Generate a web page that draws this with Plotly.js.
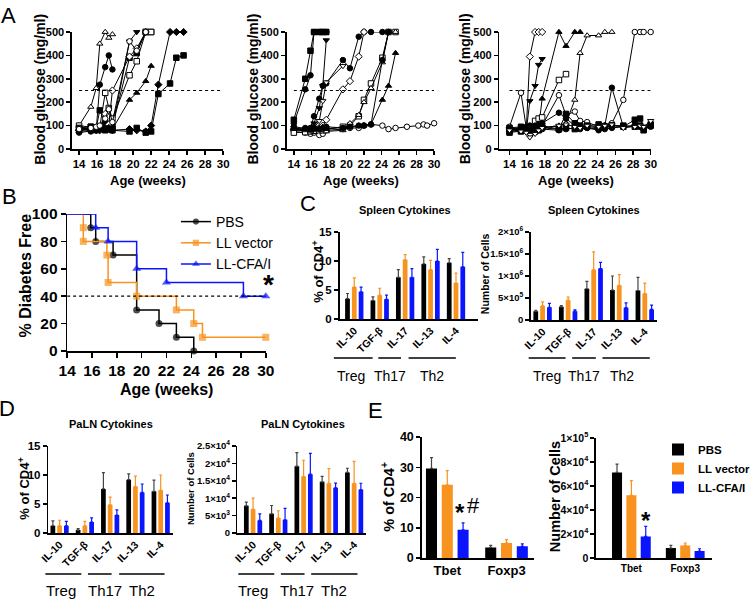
<!DOCTYPE html>
<html><head><meta charset="utf-8">
<script src="https://cdn.plot.ly/plotly-3.0.1.min.js"></script>
<style>html,body{margin:0;padding:0;background:#fff}#chart{width:756px;height:599px}</style>
</head><body><div id="chart"></div>
<script>
const W = 756, H = 599;
const F = 'Arial, "Liberation Sans", Helvetica, sans-serif';

// ---------- Panel A: blood glucose per mouse ----------
const weeks = [14, 15.3, 15.9, 16.3, 16.9, 17.3, 17.7, 19.6, 20.4, 21.4, 22.0, 22.8, 24.1, 24.8, 25.6, 26.9, 28.2, 28.8, 29.2, 30];
const glucoseThreshold = 250;
const xTicksWeeks = [14, 16, 18, 20, 22, 24, 26, 28, 30];
const yTicksGlucose = [0, 100, 200, 300, 400, 500];

const pbsGlucose = [
  [100, 180, 260, 450, 500, 475, 490],
  [70, 75, 80, 275, 350, 400, 340],
  [85, 90, 80, 85, 90, 85, 90, 460, 500],
  [80, 85, 90, 165, 110, 85, 95, 390, 410, 500, 500],
  [100, 95, 90, 95, 240, 175, 130, 315, 375, 500, 500],
  [80, 85, 80, 90, 150, 105, 250, 395, 430, 500],
  [75, 80, 75, 85, 80, 90, 85, 210, 240, 290, 355],
  [80, 85, 90, 80, 85, 90, 80, 85, 80, 75, 100, 275, 500, 500, 500],
  [90, 95, 85, 90, 80, 85, 80, 75, 90, 70, 75, 235, 280, 390, 400],
  [85, 90, 95, 100, 130, 170, 115, 460, 420, 500]
];
const pbsSymbols = ['triangle-up-open', 'circle', 'triangle-down', 'square', 'square-open', 'diamond-open', 'triangle-up', 'diamond', 'square', 'circle-open'];

const vectorGlucose = [
  [125, 300, 420, 500, 500, 500, 500],
  [110, 255, 315, 500, 500, 500, 500],
  [90, 85, 80, 110, 175, 270, 465],
  [80, 85, 90, 140, 215, 270, 280, 380, 345, 480, 500, 500, 500, 500],
  [80, 80, 85, 90, 120, 205, 285, 355],
  [85, 80, 75, 80, 90, 100, 125, 255, 290, 395, 500],
  [75, 70, 65, 70, 60, 65, 80, 85, 90, 90, 100, 105, 100, 85, 90, 95, 100, 105, 100, 110],
  [70, 72, 75, 78, 80, 80, 85, 95, 100, 140, 210, 280, 390, 500, 500],
  [85, 80, 75, 80, 85, 80, 75, 80, 110, 145, 200, 260, 370, 500, 500],
  [90, 85, 80, 85, 90, 95, 85, 90, 95, 100, 100, 105, 210, 270, 410],
  [95, 90, 85, 90, 85, 90, 95, 90, 95, 100, 100, 105, 380, 500]
];
const vectorSymbols = ['square', 'circle', 'triangle-down', 'circle', 'triangle-down-open', 'diamond-open', 'circle-open', 'square-open', 'triangle-up-open', 'triangle-up', 'circle'];

const cfaGlucose = [
  [90, 85, 80, 395, 500, 500, 500],
  [85, 80, 75, 205, 270, 360, 385],
  [80, 85, 90, 80, 85, 90, 215, 500, 440, 500, 500],
  [90, 85, 80, 75, 80, 85, 90, 100, 110, 210, 410, 485, 485, 500, 500],
  [75, 80, 85, 80, 120, 130, 135, 295, 320],
  [95, 240, 90, 85, 90, 95, 100, 230, 145, 160, 120, 115, 95, 100, 110, 210, 500, 500, 500, 500],
  [80, 85, 90, 95, 100, 105, 110, 155, 130, 100, 95, 90, 85, 100, 262, 95, 100, 95, 90, 100],
  [70, 75, 80, 85, 90, 95, 100, 85, 150, 110, 100, 95, 90, 95, 100, 95, 125, 130, 90, 100],
  [85, 90, 95, 100, 90, 80, 85, 80, 85, 90, 85, 90, 80, 85, 90, 95, 100, 95, 85, 95],
  [90, 95, 85, 80, 75, 80, 90, 85, 90, 85, 95, 100, 105, 95, 100, 100, 95, 100, 80, 105],
  [80, 75, 70, 50, 65, 80, 90, 100, 105, 95, 90, 100, 95, 100, 105, 90, 95, 100, 95, 120]
];
const cfaSymbols = ['diamond-open', 'triangle-down', 'triangle-up', 'triangle-up-open', 'square-open', 'circle-open', 'circle', 'square', 'circle', 'square', 'triangle-down-open'];

// ---------- Panel B: diabetes-free survival ----------
const groupNames = ['PBS', 'LL vector', 'LL-CFA/I'];
const survWeeksPBS = [14, 15.9, 16.3, 17.7, 19.6, 21.4, 22.8, 24.2];
const survPBS = [100, 90, 80, 70, 30, 20, 10, 0];
const survWeeksVector = [14, 15.3, 15.3, 17.2, 17.3, 19.6, 22.8, 24.2, 24.9, 30];
const survVector = [100, 90, 80, 70, 50, 40, 30, 20, 10, 10];
const survWeeksCFA = [14, 16.3, 17.3, 19.6, 22.0, 28.2, 30];
const survCFA = [100, 90, 80, 60, 50, 40, 40];
const survivalRef = 40;
const yTicksSurv = [0, 20, 40, 60, 80, 100];

// ---------- Panels C & D: cytokines ----------
const cytokines = ['IL-10', 'TGF-β', 'IL-17', 'IL-13', 'IL-4'];
const spleenPctPBS = [3.5, 3.2, 7.2, 9.5, 9.7];
const spleenPctPBSUp = [4.4, 3.8, 8.5, 10.7, 10.4];
const spleenPctVector = [5.5, 4.1, 10.2, 8.5, 6.2];
const spleenPctVectorUp = [7.1, 5.3, 11.1, 10.1, 7.9];
const spleenPctCFA = [4.7, 3.4, 7.2, 10.0, 9.0];
const spleenPctCFAUp = [5.5, 4.1, 8.7, 12.0, 11.5];

const spleenNumPBS = [2.0e5, 3.0e5, 7.1e5, 6.8e5, 6.7e5];
const spleenNumPBSUp = [2.2e5, 3.3e5, 8.8e5, 1.0e6, 9.7e5];
const spleenNumVector = [3.2e5, 4.5e5, 1.14e6, 7.9e5, 6.0e5];
const spleenNumVectorUp = [4.1e5, 5.2e5, 1.55e6, 1.03e6, 8.4e5];
const spleenNumCFA = [2.9e5, 2.0e5, 1.17e6, 2.8e5, 2.4e5];
const spleenNumCFAUp = [3.8e5, 2.3e5, 1.31e6, 3.9e5, 3.4e5];

const palnPctPBS = [1.25, 0.5, 7.6, 9.2, 7.2];
const palnPctPBSUp = [2.1, 0.75, 10.4, 10.2, 9.1];
const palnPctVector = [1.25, 1.25, 4.85, 8.0, 7.35];
const palnPctVectorUp = [2.2, 2.0, 6.2, 9.8, 10.0];
const palnPctCFA = [1.25, 1.9, 3.1, 7.0, 5.2];
const palnPctCFAUp = [2.0, 2.6, 4.0, 8.45, 6.55];

const palnNumPBS = [7.8e3, 5.5e3, 19.2e3, 14.7e3, 17.4e3];
const palnNumPBSUp = [8.85e3, 7.9e3, 23.1e3, 16.3e3, 18.6e3];
const palnNumVector = [6.85e3, 4.3e3, 16.2e3, 14.3e3, 14.3e3];
const palnNumVectorUp = [10.0e3, 6.4e3, 20.9e3, 18.5e3, 20.6e3];
const palnNumCFA = [3.6e3, 3.8e3, 16.9e3, 13.0e3, 12.45e3];
const palnNumCFAUp = [5.5e3, 7.1e3, 22.9e3, 14.35e3, 14.3e3];

const cellGroups = ['Treg', 'Th17', 'Th2'];

// ---------- Panel E: transcription factors ----------
const factors = ['Tbet', 'Foxp3'];
const tfPctPBS = [29.6, 3.5];
const tfPctPBSUp = [33.2, 4.2];
const tfPctVector = [24.2, 4.95];
const tfPctVectorUp = [28.9, 6.05];
const tfPctCFA = [9.3, 3.85];
const tfPctCFAUp = [11.6, 4.7];
const tfNumPBS = [71.3e3, 8.3e3];
const tfNumPBSUp = [78.3e3, 10.5e3];
const tfNumVector = [52.2e3, 10.5e3];
const tfNumVectorUp = [64.4e3, 12.5e3];
const tfNumCFA = [18.0e3, 5.8e3];
const tfNumCFAUp = [26.4e3, 7.7e3];

// ---------- styles ----------
const colors = ['#000000', '#F7931E', '#0A14FF'];
const errColors = ['#444444', '#F7931E', '#0A14FF'];

function xd(a, b) { return [a / W, b / W]; }
function yd(top, bottom) { return [1 - bottom / H, 1 - top / H]; }
function px(x) { return x / W; }
function py(y) { return 1 - y / H; }

const traces = [];

function glucoseTraces(series, symbols, n) {
  series.forEach((vals, i) => {
    const sym = symbols[i];
    const open = sym.endsWith('-open');
    const base = open ? sym.slice(0, -5) : sym;
    traces.push({
      type: 'scatter', mode: 'lines+markers',
      x: weeks.slice(0, vals.length), y: vals,
      xaxis: 'x' + (n === 1 ? '' : n), yaxis: 'y' + (n === 1 ? '' : n),
      showlegend: false, cliponaxis: false,
      line: { color: '#000', width: 1 },
      marker: { symbol: base, size: 5.5, color: open ? '#fff' : '#000', line: { color: '#000', width: 1 } }
    });
  });
}
glucoseTraces(pbsGlucose, pbsSymbols, 1);
glucoseTraces(vectorGlucose, vectorSymbols, 2);
glucoseTraces(cfaGlucose, cfaSymbols, 3);

const survSets = [[survWeeksPBS, survPBS, 'circle', 7], [survWeeksVector, survVector, 'square', 7], [survWeeksCFA, survCFA, 'triangle-up', 8]];
survSets.forEach((s, i) => {
  traces.push({
    type: 'scatter', mode: 'lines+markers', name: groupNames[i],
    x: s[0], y: s[1], xaxis: 'x4', yaxis: 'y4', line: { shape: 'hv', color: colors[i], width: 1.5 },
    marker: { symbol: s[2], color: colors[i], size: s[0].map((_, j) => j === 0 ? 0 : s[3]), line: { width: 0 } },
    cliponaxis: false, legend: 'legend'
  });
});

function barTraces(cats, means, ups, n, legendName) {
  means.forEach((m, i) => {
    traces.push({
      type: 'bar', x: cats, y: m, name: groupNames[i],
      xaxis: 'x' + n, yaxis: 'y' + n,
      marker: { color: colors[i], line: { width: 0 } },
      error_y: { type: 'data', symmetric: false, array: ups[i].map((u, j) => u - m[j]), arrayminus: m.map(() => 0), color: errColors[i], thickness: 1.2, width: 1.5 },
      showlegend: !!legendName, legend: legendName || 'legend'
    });
  });
}
barTraces(cytokines, [spleenPctPBS, spleenPctVector, spleenPctCFA], [spleenPctPBSUp, spleenPctVectorUp, spleenPctCFAUp], 5);
barTraces(cytokines, [spleenNumPBS, spleenNumVector, spleenNumCFA], [spleenNumPBSUp, spleenNumVectorUp, spleenNumCFAUp], 6);
barTraces(cytokines, [palnPctPBS, palnPctVector, palnPctCFA], [palnPctPBSUp, palnPctVectorUp, palnPctCFAUp], 7);
barTraces(cytokines, [palnNumPBS, palnNumVector, palnNumCFA], [palnNumPBSUp, palnNumVectorUp, palnNumCFAUp], 8);
barTraces(factors, [tfPctPBS, tfPctVector, tfPctCFA], [tfPctPBSUp, tfPctVectorUp, tfPctCFAUp], 9);
barTraces(factors, [tfNumPBS, tfNumVector, tfNumCFA], [tfNumPBSUp, tfNumVectorUp, tfNumCFAUp], 10, 'legend2');

// ---------- axes ----------
function base(size) {
  return {
    showline: true, linecolor: '#000', linewidth: 1.5, ticks: 'outside', ticklen: 4, tickwidth: 1.5, tickcolor: '#000',
    showgrid: false, zeroline: false, fixedrange: true,
    tickfont: { family: F, size: size, color: '#000', weight: 'bold' }
  };
}
const layout = {
  width: W, height: H, margin: { l: 0, r: 0, t: 0, b: 0 }, paper_bgcolor: '#fff', plot_bgcolor: 'rgba(0,0,0,0)',
  barmode: 'group', bargap: 0.2, bargroupgap: 0.3, showlegend: true,
  legend: { x: px(186), y: py(206), xanchor: 'left', yanchor: 'top', bgcolor: 'rgba(0,0,0,0)', font: { family: F, size: 14, color: '#000' }, tracegroupgap: 0, itemwidth: 30 },
  legend2: { x: px(696), y: py(435), xanchor: 'left', yanchor: 'top', bgcolor: 'rgba(0,0,0,0)', font: { family: F, size: 11.5, color: '#000', weight: 'bold' }, tracegroupgap: 0 },
  shapes: [], annotations: []
};
function setAxes(n, xdom, ydom, xopt, yopt) {
  const k = n === 1 ? '' : n;
  layout['xaxis' + k] = Object.assign({ domain: xdom, anchor: 'y' + k }, xopt);
  layout['yaxis' + k] = Object.assign({ domain: ydom, anchor: 'x' + k }, yopt);
}
const glucX = (r) => Object.assign(base(11.5), { range: r, tickvals: xTicksWeeks });
const glucY = () => Object.assign(base(11), { range: [0, 500], tickvals: yTicksGlucose });
setAxes(1, xd(76, 236), yd(32, 149), glucX([13.2, 30]), glucY());
setAxes(2, xd(303, 459), yd(32, 149), glucX([13.17, 30]), glucY());
setAxes(3, xd(528, 688), yd(32, 149), glucX([12.85, 30]), glucY());
setAxes(4, xd(71, 281), yd(214, 351),
  Object.assign(base(15.5), { range: [14, 30], tickvals: xTicksWeeks, ticklen: 5 }),
  Object.assign(base(15.5), { range: [0, 100], tickvals: yTicksSurv, ticklen: 5 }));

const catX = (r, size, ang) => Object.assign(base(size), { type: 'category', range: r, ticks: '', tickangle: ang });
setAxes(5, xd(359, 505), yd(232, 319), catX([-0.58, 4.85], 10.5, -45),
  Object.assign(base(11.5), { range: [0, 15], tickvals: [0, 5, 10, 15] }));
setAxes(6, xd(561, 695), yd(232, 320), catX([-0.47, 4.49], 10.5, -45),
  Object.assign(base(9.5), { range: [0, 2e6], tickvals: [0, 5e5, 1e6, 1.5e6, 2e6], ticktext: ['0', '5×10<sup>5</sup>', '1×10<sup>6</sup>', '1.5×10<sup>6</sup>', '2×10<sup>6</sup>'] }));
setAxes(7, xd(51, 183), yd(446, 533), catX([-0.45, 4.49], 10.5, -45),
  Object.assign(base(11.5), { range: [0, 15], tickvals: [0, 5, 10, 15] }));
setAxes(8, xd(251, 387), yd(446, 533), catX([-0.62, 4.47], 10.5, -45),
  Object.assign(base(9.5), { range: [0, 25000], tickvals: [0, 5e3, 1e4, 1.5e4, 2e4, 2.5e4], ticktext: ['0', '5×10<sup>3</sup>', '1×10<sup>4</sup>', '1.5×10<sup>4</sup>', '2×10<sup>4</sup>', '2.5×10<sup>4</sup>'] }));
setAxes(9, xd(446, 565), yd(437, 558), catX([-0.43, 1.47], 13, 0),
  Object.assign(base(12.5), { range: [0, 40], tickvals: [0, 10, 20, 30, 40] }));
setAxes(10, xd(630, 753), yd(438, 558), catX([-0.66, 1.5], 10, 0),
  Object.assign(base(10.5), { range: [0, 1e5], tickvals: [0, 2e4, 4e4, 6e4, 8e4, 1e5], ticktext: ['0', '2×10<sup>4</sup>', '4×10<sup>4</sup>', '6×10<sup>4</sup>', '8×10<sup>4</sup>', '1×10<sup>5</sup>'] }));

// reference lines
[['x', 'y'], ['x2', 'y2'], ['x3', 'y3']].forEach(r => {
  layout.shapes.push({ type: 'line', xref: r[0], yref: r[1], x0: 14, x1: 30, y0: glucoseThreshold, y1: glucoseThreshold, line: { color: '#000', width: 1.2, dash: 'dot' } });
});
layout.shapes.push({ type: 'line', xref: 'x4', yref: 'y4', x0: 14, x1: 30, y0: survivalRef, y1: survivalRef, line: { color: '#000', width: 1.2, dash: 'dot' } });

// group underline bars
function groupLines(spans, y) {
  spans.forEach(s => layout.shapes.push({ type: 'line', xref: 'paper', yref: 'paper', x0: px(s[0]), x1: px(s[1]), y0: py(y), y1: py(y), line: { color: '#000', width: 1.5 } }));
}
groupLines([[353, 394], [400, 424], [432, 482]], 358);
groupLines([[559, 598], [605, 630], [637, 687]], 358);
groupLines([[48, 86], [93, 118], [126, 174]], 574);
groupLines([[252, 290], [297, 322], [329, 378]], 574);

function ann(text, x, y, size, bold, angle) {
  layout.annotations.push({ text: text, x: px(x), y: py(y), xref: 'paper', yref: 'paper', showarrow: false, xanchor: 'center', yanchor: 'middle', textangle: angle || 0, font: { family: F, size: size, color: '#000', weight: bold ? 'bold' : 'normal' } });
}
function groupLabels(centers, y, size) { centers.forEach((c, i) => ann(cellGroups[i], c, y, size, false)); }

ann('A', 9, 15, 22); ann('B', 10, 196, 22); ann('C', 326, 203, 22); ann('D', 7, 408, 22); ann('E', 397, 410, 22);
[42, 267, 492].forEach(x => ann('Blood glucose (mg/ml)', x, 89, 14, true, -90));
[157, 382, 609].forEach(x => ann('Age (weeks)', x, 180, 13, true));
ann('% Diabetes Free', 27, 276, 16, true, -90);
ann('Age (weeks)', 176, 390, 16, true);
ann('*', 284, 284, 28, true);
ann('Spleen Cytokines', 428, 210, 11, true);
ann('Spleen Cytokines', 628, 210, 11, true);
ann('% of CD4<sup>+</sup>', 336, 272, 13, true, -90);
ann('Number of Cells', 513, 274, 10.5, true, -90);
ann('PaLN Cytokines', 117, 424, 11, true);
ann('PaLN Cytokines', 320, 424, 11, true);
ann('% of CD4<sup>+</sup>', 25, 489, 13, true, -90);
ann('Number of Cells', 201, 489, 9.5, true, -90);
ann('% of CD4<sup>+</sup>', 410, 497, 14.5, true, -90);
ann('Number of Cells', 587, 497, 14.5, true, -90);
groupLabels([371, 412, 457], 376, 14);
groupLabels([578, 618, 658], 376, 14);
groupLabels([65, 111, 150], 590, 15);
groupLabels([268, 314, 353], 590, 15);
ann('*', 486, 512, 24, true);
ann('#', 501, 505, 22, false);
ann('*', 683, 520, 24, true);

Plotly.newPlot('chart', traces, layout, { staticPlot: true, displayModeBar: false });
</script>
</body></html>
